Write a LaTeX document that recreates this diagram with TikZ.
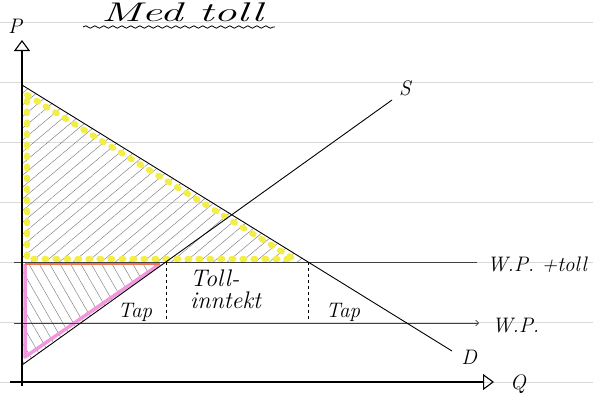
\documentclass[tikz,border=0pt]{standalone}
\usepackage{fontspec}
\usepackage{xcolor}
\usepackage{tikz}
\usetikzlibrary{arrows.meta, patterns.meta, decorations.pathmorphing, positioning}
\definecolor{HiYellow}{RGB}{242, 238, 70}
\definecolor{HiPink}{RGB}{242, 150, 222}
\definecolor{HiOrange}{RGB}{240, 120, 80}
\definecolor{PaperLine}{RGB}{218, 218, 218}
\tikzset{
  hand/.style={font=\itshape\fontsize{21}{23}\selectfont, inner sep=0pt},
  axisline/.style={line width=1.1pt, -{Triangle[open, length=11pt, width=16pt]}},
  curveline/.style={line width=0.9pt},
  priceline/.style={line width=0.6pt, black!75},
  hatch/.style={pattern={Lines[angle=#1, distance=9pt, line width=0.4pt]}, pattern color=black!55},
}

\begin{document}
\begin{tikzpicture}[x=1pt, y=-1pt]
  \useasboundingbox (0,0) rectangle (593,394);
  \foreach \yy in {22,82,...,382}
    \draw[PaperLine, line width=0.5pt] (0,\yy) -- (593,\yy);

  \coordinate (Ptop) at (22,40);
  \coordinate (Obot) at (22,386);
  \coordinate (Oleft) at (10,382);
  \coordinate (Qend) at (494,382);
  \coordinate (Dtop) at (22,85);
  \coordinate (Dend) at (452,351);
  \coordinate (Sbot) at (22,365);
  \coordinate (Send) at (392,100);
  \coordinate (Pw) at (22,262);
  \coordinate (A) at (166,262);
  \coordinate (B) at (308,262);
  \coordinate (Alow) at (166,321);
  \coordinate (Blow) at (308,321);
  \coordinate (WPTl) at (14,262);
  \coordinate (WPTr) at (477,262);
  \coordinate (WPl) at (14,323);
  \coordinate (WPr) at (479,323);
  \coordinate (ulA) at (83,27);
  \coordinate (ulB) at (275,27);
  % highlight inner edges
  \coordinate (YlTop) at (27,95);
  \coordinate (YlRight) at (294,259);
  \coordinate (YlLeft) at (27,259);
  \coordinate (PkTop) at (25,264);
  \coordinate (PkRight) at (160,264);
  \coordinate (PkBot) at (25,357);

  \begin{scope}
    \fill[hatch=40] (Dtop) -- (B) -- (Pw) -- cycle;
  \end{scope}
  \begin{scope}
    \fill[hatch=-60] (Pw) -- (A) -- (Sbot) -- cycle;
  \end{scope}
  \draw[color=HiYellow, line width=6pt, line cap=round, dash pattern=on 2pt off 9pt] (YlTop) -- (YlRight) -- (YlLeft) -- cycle;
  \draw[color=HiPink, line width=3.5pt, line join=round] (PkTop) -- (PkBot) -- (PkRight);
  \draw[color=HiOrange, line width=2.5pt] (PkTop) -- (PkRight);

  \draw[priceline] (WPTl) -- (WPTr);
  \draw[priceline, -{Straight Barb[length=3pt]}] (WPl) -- (WPr);
  \draw[axisline] (Obot) -- (Ptop);
  \draw[axisline] (Oleft) -- (Qend);
  \draw[curveline] (Dtop) -- (Dend);
  \draw[curveline] (Sbot) -- (Send);
  \draw[dashed, line width=0.7pt] (A) -- (Alow);
  \draw[dashed, line width=0.7pt] (B) -- (Blow);

  \node[font=\itshape\fontsize{27}{29}\selectfont, inner sep=0pt, anchor=base] (title) at (182,21) {\scalebox{1.7}[1]{Med toll}};
  \draw[decorate, decoration={snake, amplitude=1.2pt, segment length=9pt}, line width=0.8pt] (ulA) -- (ulB);
  \node[hand] (plab) at (15,26) {P};
  \node[hand] (slab) at (405,88) {S};
  \node[hand] (dlab) at (469,357) {D};
  \node[hand] (qlab) at (518,384) {Q};
  \node[hand, anchor=west] (wptlab) at (487,265) {W.P. +toll};
  \node[hand, anchor=west] (wplab) at (492,326) {W.P.};
  \node[hand] (tapleft) at (135,312) {Tap};
  \node[hand] (tapright) at (343,312) {Tap};
  \node[hand, align=left, font=\itshape\fontsize{24}{22}\selectfont, anchor=north west] (income) at (190,270) {Toll-\\inntekt};
\end{tikzpicture}
\end{document}
